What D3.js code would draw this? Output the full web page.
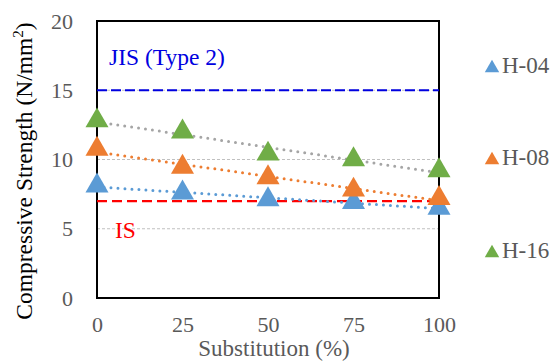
<!DOCTYPE html>
<html>
<head>
<meta charset="utf-8">
<script src="https://cdn.jsdelivr.net/npm/d3@7"></script>
<style>
  body { margin: 0; background: #fff; }
</style>
</head>
<body>
<div id="chart"></div>
<script>
// Data
var substitution = [0, 25, 50, 75, 100];
var seriesNames = ['H-04', 'H-08', 'H-16'];
var h04 = [8.1, 7.6, 7.1, 6.9, 6.5];
var h08 = [10.75, 9.45, 8.7, 7.8, 7.2];
var h16 = [12.8, 12.0, 10.4, 10.0, 9.2];
var seriesColors = ['#5b9bd5', '#ed7d31', '#70ad47'];
var trendColors = ['#5b9bd5', '#ed7d31', '#a5a5a5'];
var yTicks = [0, 5, 10, 15, 20];
var xTicks = [0, 25, 50, 75, 100];
var jisValue = 15;
var isValue = 7;

var serif = '"Liberation Serif", serif';
var svgWidth = 554;
var svgHeight = 361;

var svg = d3.select('#chart')
    .append('svg')
    .attr('width', svgWidth)
    .attr('height', svgHeight)
    .attr('font-family', serif);

var x = d3.scaleLinear().domain([0, 100]).range([97, 439]);
var y = d3.scaleLinear().domain([0, 20]).range([298, 21]);

// gridlines
svg.append('g').selectAll('line')
    .data([5, 10, 15])
    .enter()
    .append('line')
    .attr('x1', x(0)).attr('x2', x(100))
    .attr('y1', d => y(d)).attr('y2', d => y(d))
    .attr('stroke', '#b0b0b0')
    .attr('stroke-width', 0.8)
    .attr('stroke-dasharray', '3,2');

// y axis
var yAxis = svg.append('g')
    .attr('transform', `translate(${x(0)},0)`)
    .call(d3.axisLeft(y).tickValues(yTicks).tickSize(0).tickPadding(24));
yAxis.attr('font-family', serif);
yAxis.select('.domain').remove();
yAxis.selectAll('text')
    .attr('fill', '#595959')
    .style('font-family', serif)
    .style('font-size', '22px');

// x axis
var xAxis = svg.append('g')
    .attr('transform', `translate(0,${y(0)})`)
    .call(d3.axisBottom(x).tickValues(xTicks).tickSize(0).tickPadding(18));
xAxis.attr('font-family', serif);
xAxis.select('.domain').remove();
xAxis.selectAll('text')
    .attr('fill', '#595959')
    .style('font-family', serif)
    .style('font-size', '22px');

// plot border
svg.append('rect')
    .attr('x', x(0)).attr('y', y(20))
    .attr('width', x(100) - x(0)).attr('height', y(0) - y(20))
    .attr('fill', 'none')
    .attr('stroke', '#000')
    .attr('stroke-width', 2);

// reference lines
svg.append('line')
    .attr('x1', x(0)).attr('x2', x(100))
    .attr('y1', y(jisValue)).attr('y2', y(jisValue))
    .attr('stroke', '#0000e0')
    .attr('stroke-width', 2.2)
    .attr('stroke-dasharray', '10,4');
svg.append('line')
    .attr('x1', x(0)).attr('x2', x(100))
    .attr('y1', y(isValue)).attr('y2', y(isValue))
    .attr('stroke', '#ff0000')
    .attr('stroke-width', 2.2)
    .attr('stroke-dasharray', '10,5');

svg.append('text')
    .attr('x', 109).attr('y', 65)
    .attr('fill', '#0000e0')
    .style('font-family', serif)
    .style('font-size', '23.5px')
    .text('JIS (Type 2)');
svg.append('text')
    .attr('x', 115).attr('y', 238)
    .attr('fill', '#ff0000')
    .style('font-family', serif)
    .style('font-size', '23.5px')
    .text('IS');

// linear trendlines
var allSeries = [h04, h08, h16];
allSeries.forEach(function(vals, i) {
    var mx = d3.mean(substitution), my = d3.mean(vals);
    var num = d3.sum(substitution, (s, k) => (s - mx) * (vals[k] - my));
    var den = d3.sum(substitution, s => (s - mx) * (s - mx));
    var slope = num / den, icpt = my - slope * mx;
    svg.append('line')
        .attr('x1', x(0)).attr('y1', y(icpt))
        .attr('x2', x(100)).attr('y2', y(icpt + slope * 100))
        .attr('stroke', trendColors[i])
        .attr('stroke-width', 3)
        .attr('stroke-linecap', 'round')
        .attr('stroke-dasharray', '0,7');
});

// markers
var tri = d3.symbol().type(d3.symbolTriangle).size(230);
var triSmall = d3.symbol().type(d3.symbolTriangle).size(90);
allSeries.forEach(function(vals, i) {
    svg.append('g').selectAll('path')
        .data(vals)
        .enter()
        .append('path')
        .attr('d', tri)
        .attr('transform', (d, k) => `translate(${x(substitution[k])},${y(d)})`)
        .attr('fill', seriesColors[i]);
});

// legend
var legendY = [73, 165, 258];
seriesNames.forEach(function(name, i) {
    svg.append('path')
        .attr('d', triSmall)
        .attr('transform', `translate(492,${legendY[i] - 5})`)
        .attr('fill', seriesColors[i]);
    svg.append('text')
        .attr('x', 502).attr('y', legendY[i])
        .attr('fill', '#595959')
        .style('font-family', serif)
        .style('font-size', '23px')
        .text(name);
});

// axis titles
svg.append('text')
    .attr('transform', 'translate(32,171) rotate(-90)')
    .attr('text-anchor', 'middle')
    .attr('fill', '#000')
    .style('font-family', serif)
    .style('font-size', '23.5px')
    .html('Compressive Strength (N/mm<tspan dy="-9" font-size="15px">2</tspan><tspan dy="9">)</tspan>');
svg.append('text')
    .attr('x', 274).attr('y', 356)
    .attr('text-anchor', 'middle')
    .attr('fill', '#595959')
    .style('font-family', serif)
    .style('font-size', '23px')
    .text('Substitution (%)');
</script>
</body>
</html>
